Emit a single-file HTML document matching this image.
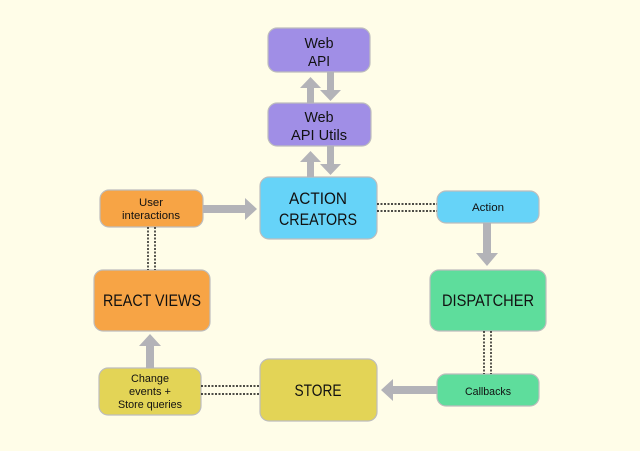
<!DOCTYPE html>
<html><head><style>body{margin:0;background:#fffde8}svg{display:block}text{font-family:"Liberation Sans",sans-serif;fill:#111;text-anchor:middle}</style></head><body>
<svg width="640" height="451" viewBox="0 0 640 451">
<rect x="0" y="0" width="640" height="451" fill="#fffde8"/>
<g stroke="#bdbdbd" stroke-width="1.2">
<rect x="268" y="28" width="102" height="44" rx="9" fill="#a08ee6"/>
<rect x="268" y="103" width="103" height="43" rx="9" fill="#a08ee6"/>
<rect x="260" y="177" width="117" height="62" rx="9" fill="#66d3f8"/>
<rect x="100" y="190" width="103" height="37" rx="9" fill="#f7a445"/>
<rect x="437" y="191" width="102" height="32" rx="9" fill="#66d3f8"/>
<rect x="430" y="270" width="116" height="61" rx="9" fill="#5edd9c"/>
<rect x="94" y="270" width="116" height="61" rx="9" fill="#f7a445"/>
<rect x="99" y="368" width="102" height="47" rx="9" fill="#e3d456"/>
<rect x="260" y="359" width="117" height="62" rx="9" fill="#e3d456"/>
<rect x="437" y="374" width="102" height="32" rx="9" fill="#5edd9c"/>
</g>
<g fill="#b3b3b8">
<polygon points="307,103 307,88 300,88 310.5,77 321,88 314,88 314,103"/>
<polygon points="327,72 334,72 334,90 341,90 330.5,101 320,90 327,90"/>
<polygon points="307,177 307,162 300,162 310.5,151 321,162 314,162 314,177"/>
<polygon points="327,146 334,146 334,164 341,164 330.5,175 320,164 327,164"/>
<polygon points="203,205 245,205 245,198 257,209 245,220 245,213 203,213"/>
<polygon points="483,223 491,223 491,253 498,253 487,266 476,253 483,253"/>
<polygon points="437,386 393,386 393,379 381,390 393,401 393,394 437,394"/>
<polygon points="146,368 146,346 139,346 150,334 161,346 154,346 154,368"/>
</g>
<g stroke="#111" stroke-width="1.4" stroke-dasharray="2,1.5" fill="none">
<path d="M148 227V270M155 227V270"/>
<path d="M377 204H437M377 211H437"/>
<path d="M484 331V374M491 331V374"/>
<path d="M201 386H260M201 394H260"/>
</g>
<text x="319" y="48" font-size="15" textLength="29" lengthAdjust="spacingAndGlyphs">Web</text>
<text x="319" y="66" font-size="15" textLength="22" lengthAdjust="spacingAndGlyphs">API</text>
<text x="319" y="122" font-size="15" textLength="29" lengthAdjust="spacingAndGlyphs">Web</text>
<text x="319" y="140" font-size="15" textLength="56" lengthAdjust="spacingAndGlyphs">API Utils</text>
<text x="318" y="204" font-size="17" textLength="58" lengthAdjust="spacingAndGlyphs">ACTION</text>
<text x="318" y="225" font-size="17" textLength="78" lengthAdjust="spacingAndGlyphs">CREATORS</text>
<text x="151" y="206" font-size="11" textLength="24" lengthAdjust="spacingAndGlyphs">User</text>
<text x="151" y="219" font-size="11" textLength="58" lengthAdjust="spacingAndGlyphs">interactions</text>
<text x="488" y="211" font-size="11" textLength="32" lengthAdjust="spacingAndGlyphs">Action</text>
<text x="488" y="306" font-size="17" textLength="92" lengthAdjust="spacingAndGlyphs">DISPATCHER</text>
<text x="152" y="306" font-size="17" textLength="98" lengthAdjust="spacingAndGlyphs">REACT VIEWS</text>
<text x="150" y="382" font-size="11" textLength="38" lengthAdjust="spacingAndGlyphs">Change</text>
<text x="150" y="395" font-size="11" textLength="42" lengthAdjust="spacingAndGlyphs">events +</text>
<text x="150" y="408" font-size="11" textLength="64" lengthAdjust="spacingAndGlyphs">Store queries</text>
<text x="318" y="396" font-size="17" textLength="47" lengthAdjust="spacingAndGlyphs">STORE</text>
<text x="488" y="395" font-size="11" textLength="46" lengthAdjust="spacingAndGlyphs">Callbacks</text>
</svg>
</body></html>
